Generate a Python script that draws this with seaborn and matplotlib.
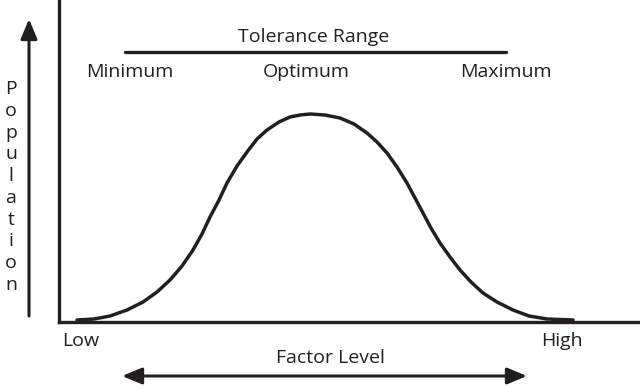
import matplotlib
matplotlib.use('Agg')
import matplotlib.pyplot as plt
import seaborn as sns
import pandas as pd

# Bell curve (x: factor level, y: population, pixel units above baseline)
factor_level = [18, 35, 51, 68, 84, 98, 111, 123, 134, 143, 151, 160, 168, 178, 188,
                198, 208, 220, 231, 241, 251, 266, 281, 295, 308, 318, 328, 338, 348,
                356, 364, 372, 381, 391, 401, 412, 424, 438, 454, 470, 488, 514]
population = [2, 3, 6, 12, 20, 30, 42, 56, 72, 88, 105, 122, 139, 156, 170,
              183, 192, 200, 205, 207, 208, 207, 204, 198, 189, 180, 169, 155, 139,
              124, 109, 94, 79, 65, 52, 40, 29, 20, 12, 6, 3, 2]
range_labels = ['Minimum', 'Optimum', 'Maximum']
axis_ends = ['Low', 'High']

ink = '#231f20'
sns.set_style('white')
plt.rcParams['font.family'] = ['Open Sans', 'DejaVu Sans']

fig = plt.figure(figsize=(6.4, 3.88), dpi=100)
ax = fig.add_axes([59 / 640, 1 - 322 / 388, 581 / 640, 322 / 388])
df = pd.DataFrame({'level': factor_level, 'pop': population})
sns.lineplot(data=df, x='level', y='pop', color=ink, lw=2.5, ax=ax, sort=False)
ax.set_xlim(0, 581)
ax.set_ylim(0, 322)
ax.set_xticks([])
ax.set_yticks([])
ax.set_xlabel('')
ax.set_ylabel('')
sns.despine(ax=ax)
for s in ['left', 'bottom']:
    ax.spines[s].set_linewidth(2.4)
    ax.spines[s].set_color(ink)


def fx(px):
    return px / 640


def fy(py):
    return 1 - py / 388


fs = 14
# tolerance range bar and labels
fig.add_artist(plt.Line2D([fx(125), fx(506)], [fy(52), fy(52)], color=ink, lw=2.4))
fig.text(fx(314), fy(37), 'Tolerance Range', ha='center', va='center', fontsize=fs, color=ink)
for lab, px in zip(range_labels, [130, 306, 506]):
    fig.text(fx(px), fy(72), lab, ha='center', va='center', fontsize=fs, color=ink)

# x-axis end labels and factor level arrow
for lab, px in zip(axis_ends, [81, 562]):
    fig.text(fx(px), fy(341), lab, ha='center', va='center', fontsize=fs, color=ink)
fig.text(fx(330), fy(358), 'Factor Level', ha='center', va='center', fontsize=fs, color=ink)
ax.annotate('', xy=(fx(122), fy(376)), xytext=(fx(527), fy(376)), xycoords='figure fraction',
            textcoords='figure fraction',
            arrowprops=dict(arrowstyle='<|-|>,head_length=1.2,head_width=0.5', color=ink, lw=2.2,
                            shrinkA=0, shrinkB=0))

# population arrow and stacked label
ax.annotate('', xy=(fx(29), fy(19)), xytext=(fx(29), fy(316)), xycoords='figure fraction',
            textcoords='figure fraction',
            arrowprops=dict(arrowstyle='-|>,head_length=1.2,head_width=0.5', color=ink, lw=2.2,
                            shrinkA=0, shrinkB=0))
fig.text(fx(11), fy(187), '\n'.join('Population'), ha='center', va='center',
         fontsize=fs, color=ink, linespacing=1.27)

fig.savefig('out.png', dpi=100)
